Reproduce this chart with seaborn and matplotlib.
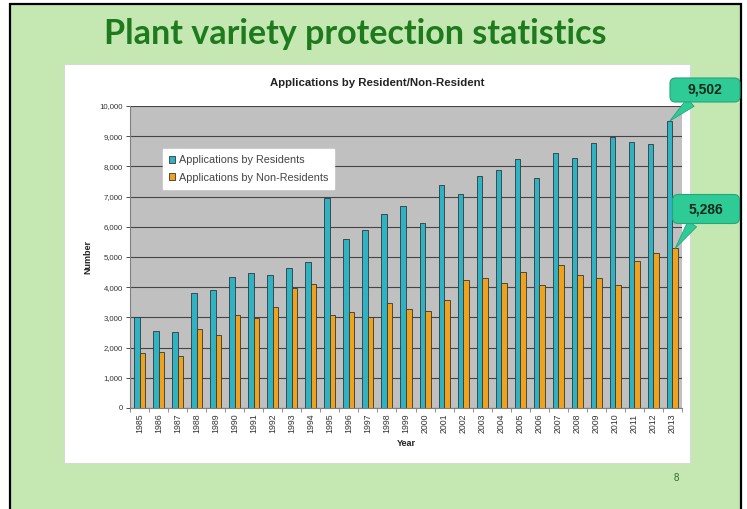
import numpy as np
import pandas as pd
import matplotlib
matplotlib.use("Agg")
import matplotlib.pyplot as plt
from matplotlib.patches import Rectangle, BoxStyle
from matplotlib.ticker import FuncFormatter, MultipleLocator, FixedLocator
import seaborn as sns

years = [str(y) for y in range(1985, 2014)]
residents = [3020, 2550, 2530, 3820, 3900, 4340, 4480, 4420, 4650, 4820,
             6960, 5610, 5890, 6420, 6700, 6140, 7400, 7070, 7680, 7880,
             8230, 7600, 8430, 8270, 8760, 8960, 8820, 8730, 9502]
non_residents = [1820, 1860, 1710, 2630, 2430, 3070, 2990, 3350, 3980, 4090,
                 3070, 3180, 3020, 3480, 3290, 3220, 3590, 4230, 4290, 4140,
                 4490, 4070, 4750, 4420, 4290, 4070, 4870, 5140, 5286]
series_names = ["Applications by Residents", "Applications by Non-Residents"]
callout_labels = ["9,502", "5,286"]

df = pd.DataFrame({
    "Year": years * 2,
    "Number": residents + non_residents,
    "Series": [series_names[0]] * len(years) + [series_names[1]] * len(years),
})

sns.set_theme(style="white")
plt.rcParams["font.family"] = ["Liberation Sans", "DejaVu Sans"]

W, H = 747, 509
fig = plt.figure(figsize=(W / 100, H / 100), dpi=100)
fig.patch.set_facecolor("white")

# slide background and border (no bottom edge visible)
fig.patches.append(Rectangle((10 / W, -0.05), (741 - 10) / W, (H - 4) / H + 0.05,
                             transform=fig.transFigure, facecolor="#c5e8b2",
                             edgecolor="black", linewidth=1.6, zorder=-10))
# white chart box
fig.patches.append(Rectangle((64 / W, (H - 463) / H), (690 - 64) / W, (463 - 64) / H,
                             transform=fig.transFigure, facecolor="white",
                             edgecolor="#d8d8d8", linewidth=0.8, zorder=-5))

fig.text(355 / W, 1 - 34 / H, "Plant variety protection statistics",
         ha="center", va="center", fontsize=24.5, fontweight="bold",
         color="#1d7a1d", family=["Lato", "DejaVu Sans"])

ax = fig.add_axes([130 / W, (H - 408) / H, (682 - 130) / W, (408 - 106) / H])
palette = {series_names[0]: "#2fb3c2", series_names[1]: "#f0a21c"}
sns.barplot(data=df, x="Year", y="Number", hue="Series", palette=palette,
            width=0.58, edgecolor="#30383a", linewidth=0.6, saturation=1,
            ax=ax)

ax.set_facecolor("#c0c0c0")
ax.set_ylim(0, 10000)
ax.set_xlim(-0.5, len(years) - 0.5)
ax.yaxis.set_major_locator(MultipleLocator(1000))
ax.yaxis.set_major_formatter(FuncFormatter(lambda v, p: f"{int(v):,}"))
ax.xaxis.set_minor_locator(FixedLocator(np.arange(-0.5, len(years), 1.0)))
ax.grid(axis="y", color="#454545", linewidth=0.8)
ax.set_axisbelow(True)
for s in ["top", "right"]:
    ax.spines[s].set_visible(False)
ax.spines["left"].set_color("#808080")
ax.spines["bottom"].set_color("#808080")
ax.spines["left"].set_linewidth(0.8)
ax.spines["bottom"].set_linewidth(0.8)
ax.tick_params(axis="y", labelsize=5.6, colors="#333333", length=3, width=0.6,
               left=True, pad=2)
ax.tick_params(axis="x", which="major", labelsize=6.3, colors="#333333",
               length=0, pad=4, labelrotation=90)
ax.tick_params(axis="x", which="minor", bottom=True, length=3, width=0.6,
               color="#808080")
ax.set_xlabel("Year", fontsize=6.5, fontweight="bold", color="#222222", labelpad=4)
ax.set_ylabel("Number", fontsize=6.5, fontweight="bold", color="#222222", labelpad=5)
ax.set_title("")
fig.text(377 / W, 1 - 83 / H, "Applications by Resident/Non-Resident",
         ha="center", va="center", fontsize=8.2, fontweight="bold",
         color="#222222")

leg = ax.legend(loc="upper left", bbox_to_anchor=(0.05, 0.875), fontsize=7.8,
                frameon=True, fancybox=False, framealpha=1, edgecolor="white",
                handlelength=0.6, handleheight=0.6, handletextpad=0.3,
                borderpad=0.55, labelspacing=0.7)
for t in leg.get_texts():
    t.set_color("#444444")


def fixed_box(target_w, target_h):
    base = BoxStyle.Round(pad=0, rounding_size=0.4)

    def style(x0, y0, width, height, mutation_size):
        px = (target_w - width) / 2
        py = (target_h - height) / 2
        return base(x0 - px, y0 - py, width + 2 * px, height + 2 * py,
                    mutation_size)
    return style


# callouts: box size (px) and centre (figure px), pointing at the last bars
box_specs = [(70, 24, (705, H - 90)), (67, 29, (706, H - 209))]
callout_fc, callout_ec = "#2ecb96", "#25a57a"
for cont, label, (bw, bh, centre) in zip(ax.containers, callout_labels, box_specs):
    bar = cont[-1]
    xy = (bar.get_x() + bar.get_width() / 2, bar.get_height())
    ax.annotate(label, xy=xy, xytext=centre, textcoords="figure pixels",
                ha="center", va="center", fontsize=10, fontweight="bold",
                color="#10291b", annotation_clip=False, zorder=20,
                bbox=dict(boxstyle=fixed_box(bw, bh), fc=callout_fc,
                          ec=callout_ec, lw=0.8),
                arrowprops=dict(arrowstyle="wedge,tail_width=0.75,shrink_factor=0.5",
                                fc=callout_fc, ec=callout_ec, lw=0.6,
                                relpos=(0.27, 0.02), shrinkA=0, shrinkB=0))

fig.text(676 / W, 1 - 478 / H, "8", ha="center", va="center", fontsize=7,
         color="#2e6b2e")

fig.savefig("out.png", dpi=100)
